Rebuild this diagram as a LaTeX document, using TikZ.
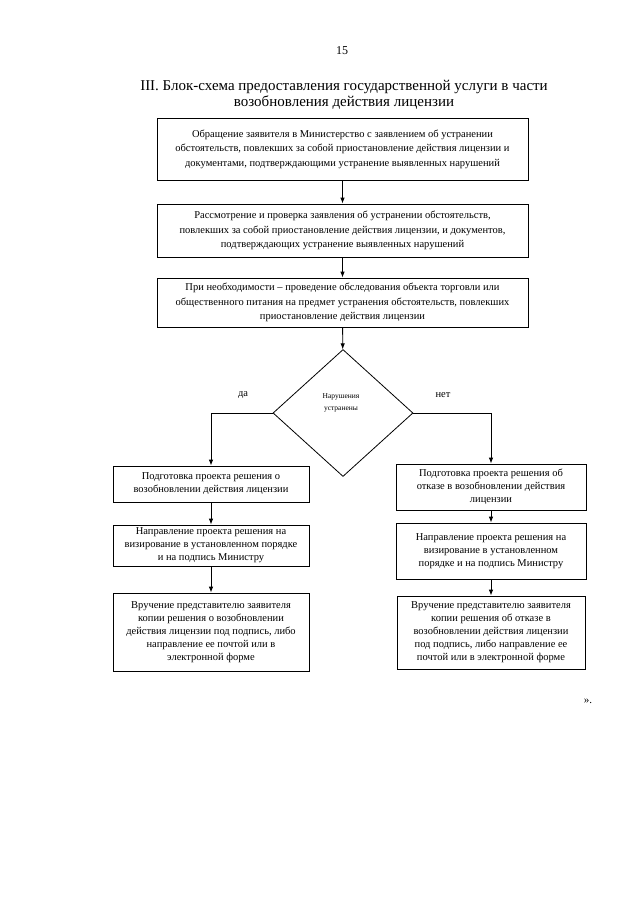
\documentclass[tikz,border=0pt]{standalone}
\usepackage{fontspec}
\setmainfont{Liberation Serif}
\usetikzlibrary{shapes.geometric,arrows.meta}

\begin{document}
\begin{tikzpicture}[x=1pt,y=-1pt,
		box/.style={draw,line width=0.8pt,align=center,inner sep=2pt,font=\fontsize{10.5}{13}\selectfont},
		widebox/.style={box,minimum width=371pt,font=\fontsize{10.5}{14.5}\selectfont},
		decision/.style={diamond,draw,line width=0.8pt,minimum width=140pt,minimum height=127pt,inner sep=0pt},
		arr/.style={line width=0.8pt,-{Latex[length=6pt,width=4.5pt]}}]
		\useasboundingbox (0,0) rectangle (640,905);

		\node[font=\fontsize{12}{14}\selectfont] (num) at (342,51) {15};
		\node[align=center,font=\fontsize{15}{16.5}\selectfont] (title) at (344,95) {III. Блок-схема предоставления государственной услуги в части\\возобновления действия лицензии};

		\node[widebox,minimum height=62pt] (b1) at (342.5,149) {Обращение заявителя в Министерство с заявлением об устранении\\обстоятельств, повлекших за собой приостановление действия лицензии и\\документами, подтверждающими устранение выявленных нарушений};
		\node[widebox,minimum height=53pt] (b2) at (342.5,230.5) {Рассмотрение и проверка заявления об устранении обстоятельств,\\повлекших за собой приостановление действия лицензии, и документов,\\подтверждающих устранение выявленных нарушений};
		\node[widebox,minimum height=49pt] (b3) at (342.5,302.5) {При необходимости – проведение обследования объекта торговли или\\общественного питания на предмет устранения обстоятельств, повлекших\\приостановление действия лицензии};

		\node[decision] (dia) at (343,413) {};
		\node[align=center,font=\fontsize{7.5}{12}\selectfont] (diatext) at (341,403) {Нарушения\\устранены};
		\node[font=\fontsize{10.5}{13}\selectfont] (yes) at (243,395) {да};
		\node[font=\fontsize{10.5}{13}\selectfont] (no) at (443,395) {нет};

		\node[box,minimum width=196pt,minimum height=36pt] (l1) at (211,484) {Подготовка проекта решения о\\возобновлении действия лицензии};
		\node[box,minimum width=196pt,minimum height=41pt] (l2) at (211,545.5) {Направление проекта решения на\\визирование в установленном порядке\\и на подпись Министру};
		\node[box,minimum width=196pt,minimum height=78pt] (l3) at (211,632) {Вручение представителю заявителя\\копии решения о возобновлении\\действия лицензии под подпись, либо\\направление ее почтой или в\\электронной форме};

		\node[box,minimum width=190pt,minimum height=46pt] (r1) at (491,487) {Подготовка проекта решения об\\отказе в возобновлении действия\\лицензии};
		\node[box,minimum width=190pt,minimum height=56pt] (r2) at (491,551) {Направление проекта решения на\\визирование в установленном\\порядке и на подпись Министру};
		\node[box,minimum width=188pt,minimum height=73pt] (r3) at (491,632.5) {Вручение представителю заявителя\\копии решения об отказе в\\возобновлении действия лицензии\\под подпись, либо направление ее\\почтой или в электронной форме};

		\node[font=\fontsize{11}{13}\selectfont] (quote) at (588,701) {».};

		\draw[arr] (b1) -- (b2);
		\draw[arr] (b2) -- (b3);
		\draw[arr] (b3) -- (dia);
		\draw[arr] (dia.west) -| (l1.north);
		\draw[arr] (dia.east) -| (r1.north);
		\draw[arr] (l1) -- (l2);
		\draw[arr] (l2) -- (l3);
		\draw[arr] (r1) -- (r2);
		\draw[arr] (r2) -- (r3);
	\end{tikzpicture}
\end{document}
